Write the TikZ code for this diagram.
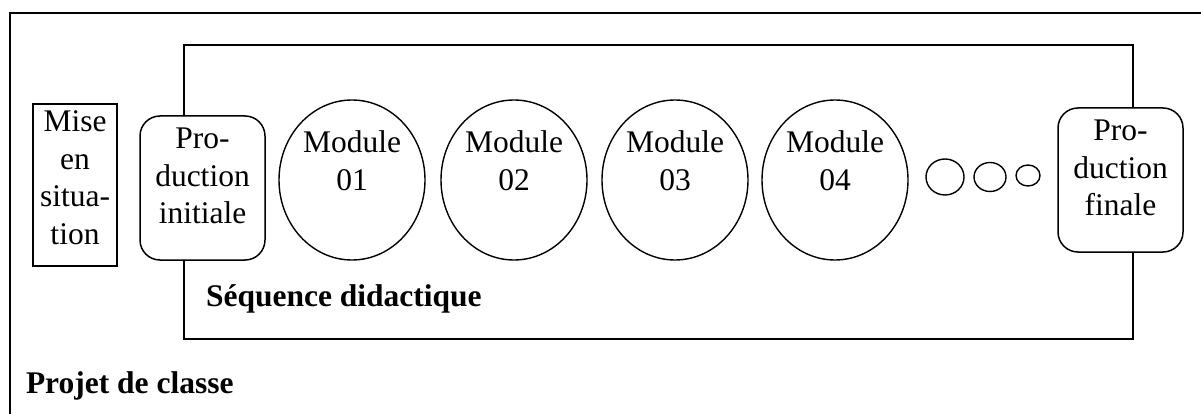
\documentclass[tikz,border=0pt]{standalone}
\usepackage{fontspec}
\setmainfont{Liberation Serif}
\usetikzlibrary{shapes.geometric}
\begin{document}
\begin{tikzpicture}[x=1pt,y=-1pt,
  every node/.style={inner sep=0pt, outer sep=0pt},
  txt/.style={font=\fontsize{31.5}{37.5}\selectfont, align=center},
  btxt/.style={font=\fontsize{31.5}{37.5}\selectfont\bfseries, anchor=base west},
  rbox/.style={draw, line width=1.5pt, rounded corners=20pt, fill=white},
  modell/.style={draw, ellipse, line width=1.4pt, fill=white},
  sq/.style={draw, line width=1.3pt}]
\useasboundingbox (0,0) rectangle (1201,414);
% outer frame (top and left only visible)
\coordinate (oTL) at (10,13);
\coordinate (oTR) at (1201,13);
\coordinate (oBL) at (10,414);
\draw[line width=2pt] (oTR) -- (oTL) -- (oBL);
% inner sequence box
\node[sq, minimum width=949pt, minimum height=294pt, anchor=north west] (seq) at (184,45) {};
% mise en situation
\node[sq, minimum width=84pt, minimum height=162pt, anchor=north west] (mise) at (33,104) {};
\node[txt, anchor=north] (misetxt) at (75,111) {Mise\\en\\situa-\\tion};
% production initiale
\node[rbox, minimum width=125pt, minimum height=144pt, anchor=north west] (pi) at (140,116) {};
\node[txt, anchor=north] (pitxt) at (202.5,128) {Pro-\\duction\\initiale};
% modules
\foreach \n/\x in {01/352,02/514,03/675,04/835}{
  \node[modell, minimum width=146pt, minimum height=160pt] (m\n) at (\x,180) {};
  \node[txt, anchor=north] (mt\n) at (\x,131) {Module\\\n};
}
% small circles
\node[modell, minimum width=38pt, minimum height=36pt] (c1) at (945,177) {};
\node[modell, minimum width=32pt, minimum height=29pt] (c2) at (990,177) {};
\node[modell, minimum width=24pt, minimum height=21pt] (c3) at (1028,175.5) {};
% production finale
\node[rbox, minimum width=125pt, minimum height=144pt, anchor=north west] (pf) at (1058,108) {};
\node[txt, anchor=north] (pftxt) at (1120.5,120) {Pro-\\duction\\finale};
% labels
\node[btxt] (seqlbl) at (206,306) {Séquence didactique};
\node[btxt] (projlbl) at (26,393) {Projet de classe};
\end{tikzpicture}
\end{document}
